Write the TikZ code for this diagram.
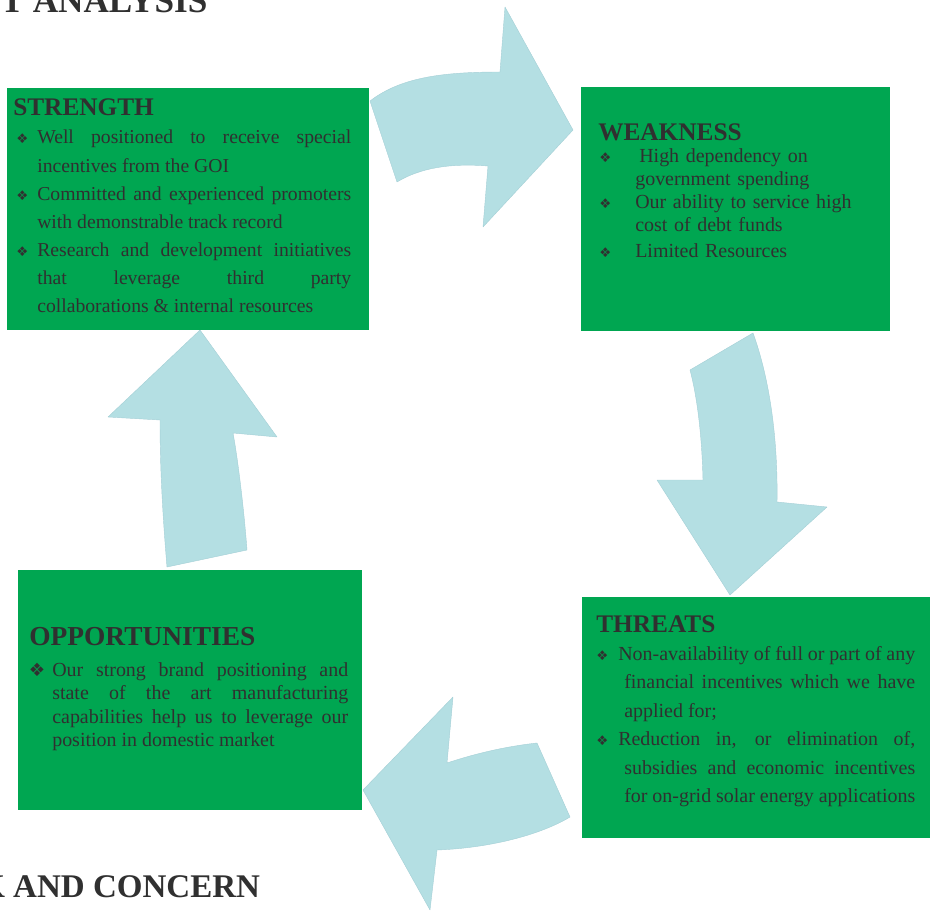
\documentclass[tikz,border=0pt]{standalone}
\usepackage{fontspec}
\setmainfont{Liberation Serif}
\newfontfamily\dingfont{DejaVu Sans}
\definecolor{swotgreen}{RGB}{0,166,81}
\definecolor{swotink}{RGB}{48,48,48}
\definecolor{swotsky}{RGB}{180,223,227}
\definecolor{swotskyedge}{RGB}{165,208,214}
\tikzset{
  box/.style={fill=swotgreen, inner sep=0pt, anchor=north west},
  head/.style={text=swotink, inner sep=0pt, anchor=base west, font=\bfseries\fontsize{18}{20}\selectfont},
  body/.style={text=swotink, inner sep=0pt, anchor=base west},
  bigarrow/.style={fill=swotsky, draw=swotskyedge, line width=0.3pt, line join=round}
}
\newcommand{\bul}[2][9.5]{\noindent\llap{{\dingfont\fontsize{#1}{#1}\selectfont ❖}\hspace{#2}}}

\begin{document}
\begin{tikzpicture}[x=0.25mm, y=-0.25mm]

  \useasboundingbox (0,0) rectangle (930,913);

  % page headings, cut by the page
  \node [text=swotink, inner sep=0pt, anchor=base west, font=\bfseries\fontsize{25}{27}\selectfont] (title) at (-27,13) {OT ANALYSIS};
  \node [text=swotink, inner sep=0pt, anchor=base west, font=\bfseries\fontsize{23.5}{26}\selectfont] (nexttitle) at (-21,897) {K AND CONCERN};

  % cycle arrows:
  \draw [bigarrow] (370,101) .. controls (400,78) and (440,72) .. (500,72) -- (505,7) -- (573,130) -- (483,227) -- (488,166) .. controls (450,163) and (420,168) .. (397,182) -- cycle;
  \draw [bigarrow] (753,333) .. controls (770,380) and (778,440) .. (777,502) -- (827,507) -- (730,595) -- (657,480) -- (703,480) .. controls (702,440) and (698,400) .. (690,370) -- cycle;
  \draw [bigarrow] (247,550) .. controls (244,510) and (238,460) .. (233,433) -- (277,437) -- (200,330) -- (108,417) -- (160,420) .. controls (160,470) and (163,520) .. (167,567) -- cycle;
  \draw [bigarrow] (537,743) -- (570,817) .. controls (540,835) and (490,848) .. (437,850) -- (430,910) -- (363,790) -- (453,697) -- (447,763) .. controls (480,752) and (510,746) .. (537,743) -- cycle;

  % the four boxes
  \node [box, minimum width=90.5mm, minimum height=60.5mm] (strength) at (7,88) {};
  \node [box, minimum width=77.25mm, minimum height=61mm] (weakness) at (581,87) {};
  \node [box, minimum width=86mm, minimum height=60mm] (opportunities) at (18,570) {};
  \node [box, minimum width=87mm, minimum height=60.25mm] (threats) at (582,597) {};

  % strength
  \node [head] (strengthhead) at (13,116) {STRENGTH};
  \node [body, text width=78.5mm, align=justify, font=\fontsize{14}{20}\selectfont] (strengthtext) at (37,144) {%
    \bul{2.25mm}Well positioned to receive special\linebreak incentives from the GOI\par
    \bul{2.25mm}Committed and experienced promoters\linebreak with demonstrable track record\par
    \bul{2.25mm}Research and development initiatives\linebreak that leverage third party\linebreak collaborations \& internal resources\par};

  % weakness
  \node [head] (weaknesshead) at (598,141) {WEAKNESS};
  \node [body, text width=62mm, align=left, font=\fontsize{14.2}{16.3}\selectfont] (weaknesstext) at (635,163) {%
    \bul{6mm}\hspace{1mm}High dependency on\\ government spending\par
    \bul{6mm}Our ability to service high\\ cost of debt funds\par\vspace{0.75mm}
    \bul{6mm}Limited Resources\par};

  % opportunities
  \node [head, font=\bfseries\fontsize{19.5}{22}\selectfont] (opportunitieshead) at (29,645) {OPPORTUNITIES};
  \node [body, text width=74mm, align=justify, font=\fontsize{14.2}{16.8}\selectfont] (opportunitiestext) at (52,676) {%
    \bul[13]{1.75mm}Our strong brand positioning and\linebreak state of the art manufacturing\linebreak capabilities help us to leverage our\linebreak position in domestic market\par};

  % threats
  \node [head] (threatshead) at (596,632) {THREATS};
  \node [body, text width=74.25mm, align=justify, font=\fontsize{14.2}{20.3}\selectfont] (threatstext) at (618,660) {%
    \bul{2.5mm}\hangindent=1.5mm\hangafter=1 Non-availability of full or part of any\linebreak financial incentives which we have\linebreak applied for;\par
    \bul{2.5mm}\hangindent=1.5mm\hangafter=1 Reduction in, or elimination of,\linebreak subsidies and economic incentives\linebreak for on-grid solar energy applications\par};

\end{tikzpicture}
\end{document}
